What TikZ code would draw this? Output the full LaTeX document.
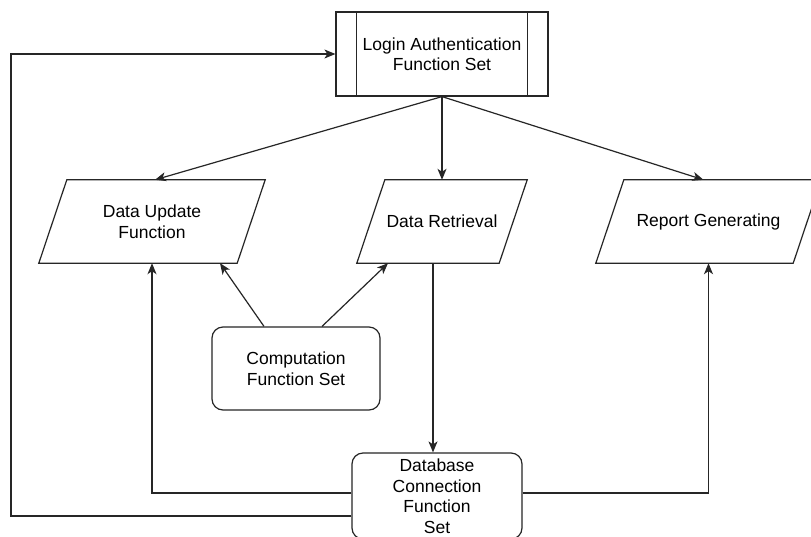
\documentclass[tikz,border=0pt]{standalone}
\usepackage{fontspec}
\setmainfont{Liberation Sans}
\usetikzlibrary{arrows.meta,calc}
\tikzset{
  lineclr/.style={draw=black!85, line width=1.2pt},
  arr/.style={lineclr, -{Stealth[length=11pt,width=9pt,inset=3pt]}},
  txt/.style={font=\fontsize{17.5}{20.5}\selectfont, align=center, inner sep=0pt},
  loginbox/.style={lineclr, rectangle, minimum width=212pt, minimum height=84pt, txt},
  parabox/.style={rectangle, minimum height=83pt, txt},
  roundbox/.style={lineclr, rectangle, rounded corners=11pt, txt},
}
\newcommand{\drawpara}[1]{\draw[lineclr] ([xshift=28pt]#1.north west) -- (#1.north east) -- ([xshift=-28pt]#1.south east) -- (#1.south west) -- cycle;}
\begin{document}
\begin{tikzpicture}[x=1pt,y=-1pt]
\useasboundingbox (0,0) rectangle (811,536);
\clip (0,0) rectangle (811,536);
\fill[white] (0,0) rectangle (811,536);

% nodes
\node[loginbox] (login) at (442,54) {Login Authentication\\Function Set};
\draw[lineclr] ([xshift=21pt]login.north west) -- ([xshift=21pt]login.south west);
\draw[lineclr] ([xshift=-21pt]login.north east) -- ([xshift=-21pt]login.south east);

\node[parabox, minimum width=226pt] (du) at (152,221.5) {Data Update\\Function};
\drawpara{du}
\node[parabox, minimum width=170pt] (dr) at (442,221.5) {Data Retrieval};
\drawpara{dr}
\node[parabox, minimum width=225pt] (rep) at (708.5,221.5) {Report Generating};
\drawpara{rep}

\node[roundbox, minimum width=168pt, minimum height=83pt] (comp) at (296,368.5) {Computation\\Function Set};
\node[roundbox, minimum width=170pt, minimum height=86pt] (db) at (437,496) {Database\\Connection\\Function\\Set};

\coordinate (loop) at (11,516);

% connectors
\draw[arr] (login.south) -- ([xshift=3pt]du.north);
\draw[arr] (login.south) -- (dr.north);
\draw[arr] (login.south) -- ([xshift=-5pt]rep.north);

\draw[arr] ([xshift=-32pt]comp.north) -- ([xshift=68pt]du.south);
\draw[arr] ([xshift=26pt]comp.north) -- ([xshift=-54pt]dr.south);

\draw[arr] ([xshift=-4pt]db.north |- dr.south) -- ([xshift=-4pt]db.north);

\draw[arr] ([yshift=3pt]db.west) -| (du.south);
\draw[arr] ([yshift=3pt]db.east) -| (rep.south);
\draw[arr] ([yshift=-20pt]db.west) -| (loop |- login.west) -- (login.west);
\end{tikzpicture}
\end{document}
